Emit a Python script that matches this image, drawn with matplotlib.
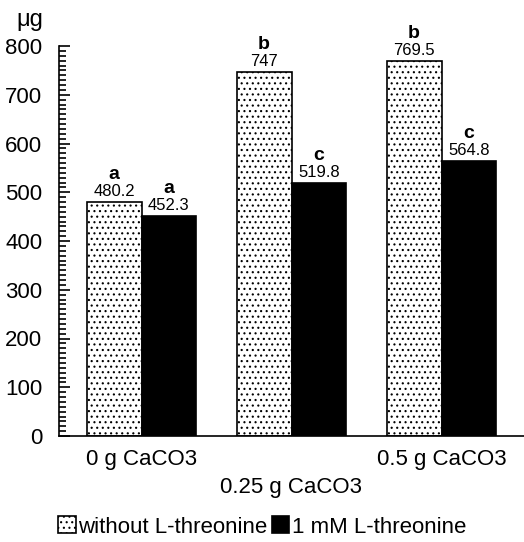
import numpy as np
import matplotlib.pyplot as plt

plt.rcParams['font.family'] = ['Liberation Sans', 'DejaVu Sans']
plt.rcParams['hatch.linewidth'] = 0.8
plt.rcParams['ytick.minor.visible'] = True

groups = ['0 g CaCO3', '0.25 g CaCO3', '0.5 g CaCO3']
without_thr = [480.2, 747, 769.5]
with_thr = [452.3, 519.8, 564.8]
letters_without = ['a', 'b', 'b']
letters_with = ['a', 'c', 'c']

fig = plt.figure(figsize=(5.24, 5.42), dpi=100)
ax = fig.add_axes([59 / 524, 1 - 436 / 542, 1 - 59 / 524, 390 / 542])

x = np.arange(len(groups))
w = 0.365
b1 = ax.bar(x - w / 2, without_thr, w, color='white', edgecolor='black',
            hatch='...', linewidth=1.2, label='without L-threonine')
b2 = ax.bar(x + w / 2, with_thr, w, color='black', edgecolor='black',
            linewidth=1.2, label='1 mM L-threonine')

# value labels and significance letters (offsets in pixels)
for bars, vals, lets in [(b1, without_thr, letters_without), (b2, with_thr, letters_with)]:
    for b, v, l in zip(bars, vals, lets):
        cx = b.get_x() + b.get_width() / 2
        ax.annotate(f'{v:g}', (cx, v), xytext=(0, 10), textcoords='offset pixels',
                    ha='center', va='center', fontsize=12)
        ax.annotate(l, (cx, v), xytext=(0, 27), textcoords='offset pixels',
                    ha='center', va='center', fontsize=14, fontweight='bold')

ax.set_xlim(-0.55, 2.55)
ax.set_ylim(0, 800)
ax.set_yticks(np.arange(0, 801, 100))
ax.set_yticks(np.arange(0, 801, 10), minor=True)
ax.tick_params(axis='y', which='major', direction='in', length=8, width=1.2, labelsize=16, pad=12)
ax.tick_params(axis='y', which='minor', direction='in', length=5, width=1.2, color='black')
ax.tick_params(axis='x', which='both', bottom=False, labelbottom=False)
ax.spines['top'].set_visible(False)
ax.spines['right'].set_visible(False)
ax.spines['left'].set_linewidth(1.2)
ax.spines['bottom'].set_linewidth(1.2)

# staggered category labels
for i, g in enumerate(groups):
    off = 52 if i == 1 else 24
    ax.annotate(g, (x[i], 0), xytext=(0, -off), textcoords='offset pixels',
                ha='center', va='center', fontsize=16, annotation_clip=False)

fig.text(30 / 524, 1 - 20 / 542, 'μg', fontsize=17, ha='center', va='center')

fig.legend(handles=[b1, b2], loc='center', bbox_to_anchor=(262 / 524, 1 - 527 / 542),
           ncol=2, frameon=False, fontsize=16, handlelength=0.8, handleheight=0.8,
           handletextpad=0.1, columnspacing=0.2)

fig.savefig('out.png', dpi=100)
